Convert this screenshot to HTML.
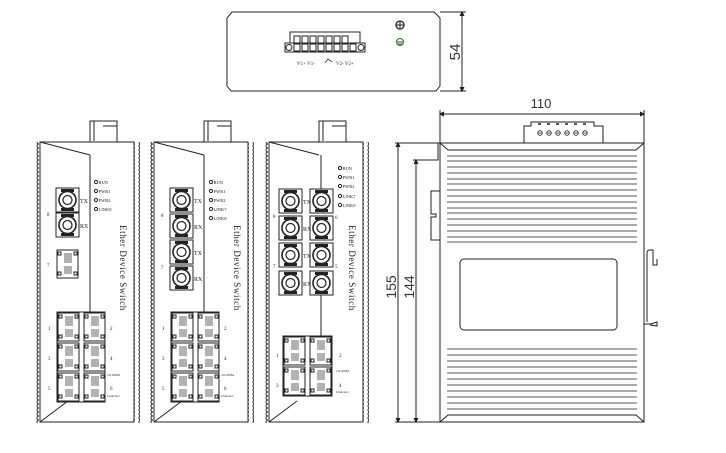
<!DOCTYPE html>
<html><head><meta charset="utf-8"><style>
html,body{margin:0;padding:0;background:#fff;}
svg{display:block;}
text{font-family:"Liberation Serif",serif;fill:#222;stroke:none;}
.s{font-family:"Liberation Sans",sans-serif;fill:#333;}
</style></head><body>
<svg width="726" height="453" viewBox="0 0 726 453" xmlns="http://www.w3.org/2000/svg" fill="none" stroke="#222" stroke-width="1">
<defs>
<pattern id="wv" width="6" height="4" patternUnits="userSpaceOnUse">
<path d="M3 0 A2 2 0 0 0 3 4" stroke="#222" stroke-width="1" fill="none"/>
</pattern>
<g id="fp">
<rect x="0" y="0" width="23" height="24" stroke-width="1"/>
<rect x="5" y="1" width="13" height="3" fill="#222" stroke="none"/>
<rect x="5" y="20" width="13" height="3" fill="#222" stroke="none"/>
<circle cx="11.5" cy="12" r="8.5" stroke-width="1.6"/>
<circle cx="11.5" cy="12" r="4.5" stroke-width="1.2"/>
</g>
<g id="rj">
<rect x="0" y="0" width="21" height="28"/>
<rect x="1" y="2" width="3" height="3"/><rect x="17" y="2" width="3" height="3"/>
<rect x="1" y="22" width="3" height="3"/><rect x="17" y="22" width="3" height="3"/>
<path d="M7 4h8M7 6h8M7 8h8M7 10h8M7 12h8M7 17h8M7 19h8M7 21h8M7 23h8" stroke="#333" stroke-width="0.8"/>
</g>
<g id="body">
<rect x="33" y="142" width="6" height="281" fill="url(#wv)" stroke="none"/>
<rect x="134" y="142" width="6" height="281" fill="url(#wv)" stroke="none"/>
<path d="M40 142 H134 V422 H40 Z"/>
<rect x="90" y="121" width="27" height="21"/>
<path d="M94 121 V141 M103 126 H117"/>
<line x1="40" y1="142" x2="90" y2="155"/>
<line x1="40" y1="422" x2="68" y2="401"/>
</g>
<g id="blk6">
<rect x="57" y="312" width="48" height="90"/>
<use href="#rj" x="58" y="313"/><use href="#rj" x="84" y="313"/>
<use href="#rj" x="58" y="343"/><use href="#rj" x="84" y="343"/>
<use href="#rj" x="58" y="373"/><use href="#rj" x="84" y="373"/>
</g>
</defs>

<!-- Top view -->
<path d="M232 12 H434 L440 18 V86 L436 91 H231 L227 86 V18 Z"/>
<path d="M440 12 H466 M440 91 H466"/>
<line x1="462" y1="12" x2="462" y2="91"/>
<path d="M460 16 L462 12 L464 16 M460 87 L462 91 L464 87" fill="#222"/>
<text class="s" transform="translate(460,52) rotate(-90)" text-anchor="middle" font-size="15">54</text>
<rect x="290" y="32" width="70" height="11"/>
<path d="M294 43 V36 H300 V43 M302 43 V36 H308 V43 M310 43 V36 H316 V43 M318 43 V36 H324 V43 M326 43 V36 H332 V43 M334 43 V36 H340 V43 M342 43 V36 H348 V43"/>
<rect x="285" y="43" width="80" height="9"/>
<circle cx="289" cy="47.5" r="3"/><circle cx="361" cy="47.5" r="3"/>
<path d="M294 44h6v7h-6zM302 44h6v7h-6zM310 44h6v7h-6zM318 44h6v7h-6zM326 44h6v7h-6zM334 44h6v7h-6zM342 44h6v7h-6zM350 44h6v7h-6z"/>
<text x="297" y="65" font-size="5">V1+ V1-</text>
<path d="M325 63 L328 59 L332 62" stroke="#2a6a2a"/>
<text x="336" y="65" font-size="5">V2- V2+</text>
<circle cx="400" cy="25" r="4" stroke-width="1.3"/><path d="M396 25h8M400 21v8"/>
<circle cx="400" cy="42" r="3.5" stroke="#2a6a2a"/><path d="M397 42h6M398 44h4" stroke="#2a6a2a"/>

<!-- Device 1 -->
<use href="#body"/>
<line x1="90" y1="155" x2="90" y2="312"/>
<use href="#fp" x="56" y="188"/><use href="#fp" x="56" y="213"/>
<text x="80" y="203" font-size="6">TX</text><text x="80" y="228" font-size="6">RX</text>
<text x="47" y="216" font-size="5">8</text>
<use href="#rj" x="57" y="250"/>
<text x="47" y="267" font-size="5">7</text>
<g font-size="4.5"><circle cx="96" cy="182" r="1.6"/><text x="98.5" y="184">RUN</text>
<circle cx="96" cy="191" r="1.6"/><text x="98.5" y="193">PWR1</text>
<circle cx="96" cy="200" r="1.6"/><text x="98.5" y="202">PWR2</text>
<circle cx="96" cy="209" r="1.6"/><text x="98.5" y="211">LINK8</text></g>
<text transform="translate(120,225) rotate(90)" font-size="9" letter-spacing="0.6">Ether  Device  Switch</text>
<use href="#blk6"/>
<g font-size="5"><text x="48" y="330">1</text><text x="48" y="360">3</text><text x="48" y="390">5</text>
<text x="110" y="330">2</text><text x="110" y="360">4</text><text x="110" y="390">6</text></g>
<g font-size="3.5"><text x="107" y="376">10/100M</text><text x="107" y="397">Link/Act</text></g>

<!-- Device 2 -->
<use href="#body" x="114"/>
<line x1="204" y1="155" x2="204" y2="312"/>
<use href="#fp" x="170" y="188"/><use href="#fp" x="170" y="214"/><use href="#fp" x="170" y="240"/><use href="#fp" x="170" y="266"/>
<text x="194" y="203" font-size="6">TX</text><text x="194" y="229" font-size="6">RX</text>
<text x="194" y="255" font-size="6">TX</text><text x="194" y="281" font-size="6">RX</text>
<text x="161" y="217" font-size="5">8</text><text x="161" y="269" font-size="5">7</text>
<g font-size="4.5"><circle cx="211" cy="182" r="1.6"/><text x="213.5" y="184">RUN</text>
<circle cx="211" cy="191" r="1.6"/><text x="213.5" y="193">PWR1</text>
<circle cx="211" cy="200" r="1.6"/><text x="213.5" y="202">PWR2</text>
<circle cx="211" cy="209" r="1.6"/><text x="213.5" y="211">LINK7</text>
<circle cx="211" cy="218" r="1.6"/><text x="213.5" y="220">LINK8</text></g>
<text transform="translate(234,225) rotate(90)" font-size="9" letter-spacing="0.6">Ether  Device  Switch</text>
<use href="#blk6" x="114"/>
<g font-size="5"><text x="162" y="330">1</text><text x="162" y="360">3</text><text x="162" y="390">5</text>
<text x="224" y="330">2</text><text x="224" y="360">4</text><text x="224" y="390">6</text></g>
<g font-size="3.5"><text x="221" y="376">10/100M</text><text x="221" y="397">Link/Act</text></g>

<!-- Device 3 -->
<use href="#body" x="229"/>
<line x1="321" y1="155" x2="321" y2="189"/><line x1="321" y1="295" x2="321" y2="336"/>
<use href="#fp" x="279" y="189"/><use href="#fp" x="279" y="216"/><use href="#fp" x="279" y="243"/><use href="#fp" x="279" y="271"/>
<use href="#fp" x="310" y="189"/><use href="#fp" x="310" y="216"/><use href="#fp" x="310" y="243"/><use href="#fp" x="310" y="271"/>
<text x="303" y="204" font-size="6">TX</text><text x="303" y="231" font-size="6">RX</text>
<text x="303" y="258" font-size="6">TX</text><text x="303" y="286" font-size="6">RX</text>
<text x="273" y="218" font-size="5">8</text><text x="273" y="268" font-size="5">7</text>
<text x="335" y="219" font-size="5">6</text><text x="335" y="268" font-size="5">5</text>
<g font-size="4.5"><circle cx="340" cy="168" r="1.6"/><text x="342.5" y="170">RUN</text>
<circle cx="340" cy="177" r="1.6"/><text x="342.5" y="179">PWR1</text>
<circle cx="340" cy="186" r="1.6"/><text x="342.5" y="188">PWR2</text>
<circle cx="340" cy="196" r="1.6"/><text x="342.5" y="198">LINK7</text>
<circle cx="340" cy="205" r="1.6"/><text x="342.5" y="207">LINK8</text></g>
<text transform="translate(349,225) rotate(90)" font-size="9" letter-spacing="0.6">Ether  Device  Switch</text>
<rect x="283" y="336" width="49" height="60"/>
<use href="#rj" x="284" y="337"/><use href="#rj" x="310" y="337"/>
<use href="#rj" x="284" y="367"/><use href="#rj" x="310" y="367"/>
<g font-size="5"><text x="276" y="357">1</text><text x="276" y="387">3</text>
<text x="339" y="357">2</text><text x="339" y="387">4</text></g>
<g font-size="3.5"><text x="336" y="372">10/100M</text><text x="336" y="393">Link/Act</text></g>

<!-- Side view -->
<text class="s" x="541" y="108" text-anchor="middle" font-size="13">110</text>
<line x1="440" y1="114" x2="644" y2="114"/>
<path d="M444 112 L440 114 L444 116 M640 112 L644 114 L640 116" fill="#222"/>
<path d="M440 110 V143 M644 110 V143"/>
<path d="M524 143 V126 H531 V122 H594 V126 H603 V143"/>
<g stroke-width="0.8"><circle cx="540" cy="133" r="2.3"/><circle cx="549" cy="133" r="2.3"/><circle cx="558" cy="133" r="2.3"/><circle cx="567" cy="133" r="2.3"/><circle cx="576" cy="133" r="2.3"/><circle cx="585" cy="133" r="2.3"/>
<path d="M538 133h4M547 133h4M556 133h4M565 133h4M574 133h4M583 133h4"/>
<path d="M538 124h3M547 124h3M556 124h3M565 124h3M574 124h3M583 124h3" stroke-width="1.5"/></g>
<rect x="440" y="143" width="204" height="279"/>
<path d="M440 143 L448 150 H636 L644 143 M440 422 L448 415 H636 L644 422"/>
<g stroke-width="1.1" stroke="#555">
<path d="M447 156H637M447 161H637M447 167H637M447 173H637M447 179H637M447 184H637M447 190H637M447 196H637M447 202H637M447 208H637M447 213H637M447 219H637M447 225H637M447 231H637M447 237H637M447 242H637"/>
<path d="M447 349H637M447 355H637M447 361H637M447 367H637M447 373H637M447 379H637M447 385H637M447 391H637M447 397H637M447 403H637M447 409H637"/>
</g>
<rect x="460" y="259" width="157" height="71" rx="4"/>
<path d="M440 191 H431 V214 H436 V217 H431 V240 H440"/>
<path d="M644 324 H651 L657 322 V326 L650 325 M647 322 V253 Q647 250 650 250 H653 V265 H657 V259"/>
<line x1="398" y1="143" x2="398" y2="422"/>
<line x1="416" y1="160" x2="416" y2="422"/>
<path d="M395 143 H440 M413 160 H438 V143 M395 422 H440"/>
<path d="M396 147 L398 143 L400 147 M396 418 L398 422 L400 418 M414 164 L416 160 L418 164 M414 418 L416 422 L418 418" fill="#222"/>
<text class="s" transform="translate(396,287) rotate(-90)" text-anchor="middle" font-size="14">155</text>
<text class="s" transform="translate(414,287) rotate(-90)" text-anchor="middle" font-size="14">144</text>
</svg>
</body></html>
